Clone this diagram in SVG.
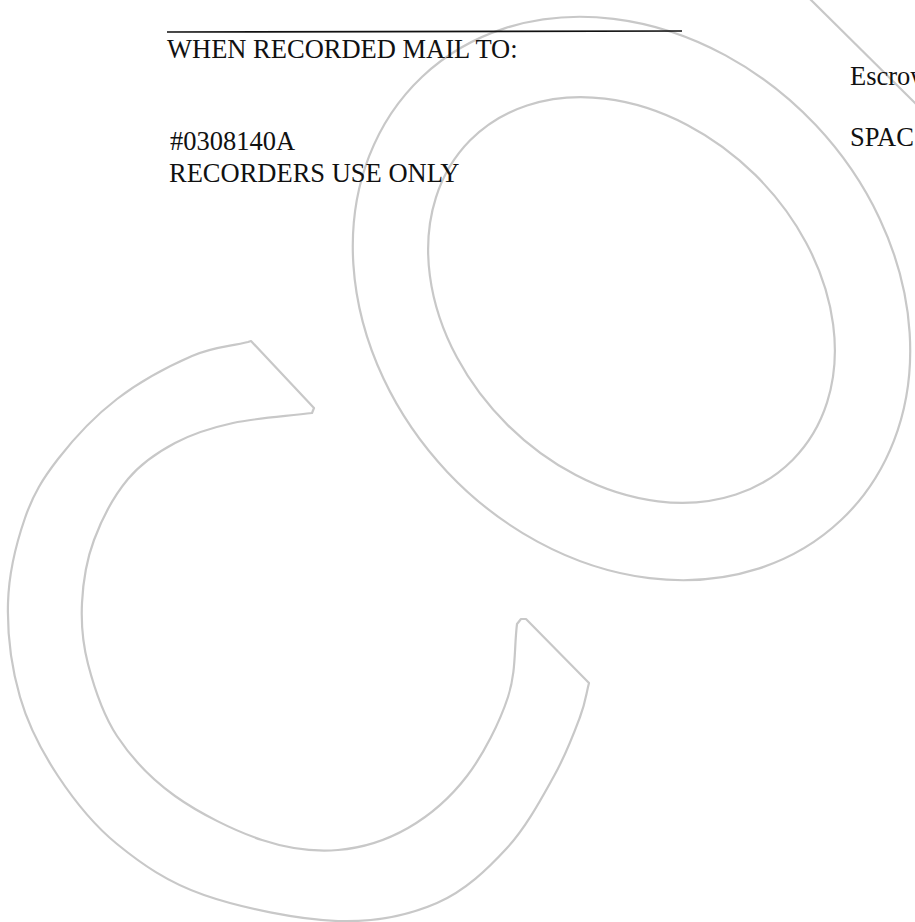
<svg xmlns="http://www.w3.org/2000/svg" width="915" height="922" viewBox="0 0 915 922">
  <style>
    .wm { fill: none; stroke: #c8c8c8; stroke-width: 2.2; stroke-linejoin: round; }
    .txt { font-family: "Liberation Serif", "Times New Roman", serif; font-size: 26.5px; fill: #111; }
  </style>
  <rect x="0" y="0" width="915" height="922" fill="#ffffff"/>
  <g id="watermark">
    <g id="letter-C">
      <path class="wm" d="M 248 342 C 229.3 346.7 213.8 346.5 192 356 C 170.2 365.5 139.3 381.8 117 399 C 94.7 416.2 73.3 439.2 58 459 C 42.7 478.8 33.3 494 25 518 C 16.7 542 8.8 573.2 8 603 C 7.2 632.8 11.7 668.2 20 697 C 28.3 725.8 41.8 751.5 58 776 C 74.2 800.5 92.7 824.2 117 844 C 141.3 863.8 167.2 882.2 204 895 C 240.8 907.8 299.2 919.7 338 921 C 376.8 922.3 408.8 915.2 437 903 C 465.2 890.8 487.5 869.2 507 848 C 526.5 826.8 541.8 797.8 554 776 C 566.2 754.2 574.2 732.5 580 717 C 585.8 701.5 586 694.3 589 683 L 526 619 L 521 619 L 517 624 C 514 648.3 516.3 671.7 508 697 C 499.7 722.3 483.7 754.2 467 776 C 450.3 797.8 429.5 815.7 408 828 C 386.5 840.3 362.3 848 338 850 C 313.7 852 289.2 849 262 840 C 234.8 831 199.2 813.3 175 796 C 150.8 778.7 131.5 758 117 736 C 102.5 714 93.8 686.2 88 664 C 82.2 641.8 81 623.7 82 603 C 83 582.3 86.3 560.7 94 540 C 101.7 519.3 114.5 495.2 128 479 C 141.5 462.8 157.5 452.3 175 443 C 192.5 433.7 210.2 428 233 423 C 255.8 418 285.7 416.3 312 413 L 314 408 L 251 341 Z"/>
    </g>
    <g id="letter-O">
      <ellipse class="wm" cx="631.5" cy="298.5" rx="305" ry="253" transform="rotate(46.66 631.5 298.5)"/>
      <ellipse class="wm" cx="631.5" cy="300" rx="227" ry="176" transform="rotate(44.7 631.5 300)"/>
    </g>
    <g id="letter-P-edge">
      <line class="wm" x1="809" y1="-2" x2="917" y2="105"/>
    </g>
  </g>
  <g id="header">
    <line x1="167" y1="32" x2="682" y2="31" stroke="#111" stroke-width="1.6"/>
    <text class="txt" font-family="'Liberation Serif', 'Times New Roman', serif" x="167" y="58" font-size="27">WHEN RECORDED MAIL TO:</text>
    <text class="txt" font-family="'Liberation Serif', 'Times New Roman', serif" x="170" y="150">#0308140A</text>
    <text class="txt" font-family="'Liberation Serif', 'Times New Roman', serif" x="169" y="182">RECORDERS USE ONLY</text>
    <text class="txt" font-family="'Liberation Serif', 'Times New Roman', serif" x="850" y="85">Escrow</text>
    <text class="txt" font-family="'Liberation Serif', 'Times New Roman', serif" x="850" y="146">SPAC</text>
  </g>
</svg>
